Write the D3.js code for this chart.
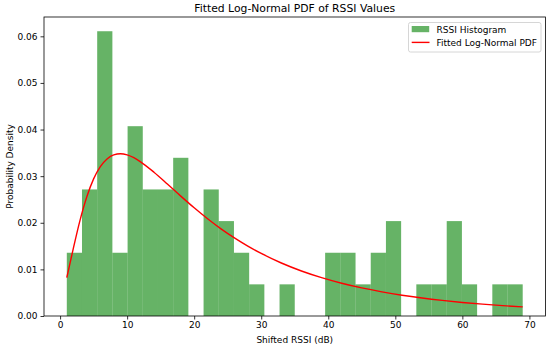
<!DOCTYPE html>
<html>
<head>
<meta charset="utf-8">
<script src="https://cdn.jsdelivr.net/npm/d3@7"></script>
<style>
  html, body { margin: 0; padding: 0; background: #fff; }
  svg { display: block; font-family: "DejaVu Sans", sans-serif; }
</style>
</head>
<body>
<svg id="chart" width="550" height="347"></svg>
<script>
// ---- data ----
const binEdges = [1, 3.267, 5.533, 7.8, 10.067, 12.333, 14.6, 16.867, 19.133, 21.4,
  23.667, 25.933, 28.2, 30.467, 32.733, 35, 37.267, 39.533, 41.8, 44.067,
  46.333, 48.6, 50.867, 53.133, 55.4, 57.667, 59.933, 62.2, 64.467, 66.733, 69];
const densities = [0.01357, 0.02715, 0.06109, 0.01357, 0.04072, 0.02715, 0.02715, 0.03394, 0, 0.02715,
  0.02036, 0.01357, 0.00679, 0, 0.00679, 0, 0, 0.01357, 0.01357, 0.00679,
  0.01357, 0.02036, 0, 0.00679, 0.00679, 0.02036, 0.00679, 0, 0.00679, 0.00679];
const pdfX = [1, 1.5, 2, 3, 4, 5, 6, 7, 8, 9, 10, 11, 12, 14, 16, 18, 20, 22, 24, 26, 28, 30,
  33, 36, 39, 42, 45, 48, 51, 54, 57, 60, 63, 66, 69];
const pdfY = [0.00823, 0.01144, 0.01467, 0.02069, 0.02565, 0.02942, 0.03205, 0.03370, 0.03457, 0.03480,
  0.03455, 0.03395, 0.03308, 0.03085, 0.02832, 0.02572, 0.02321, 0.02086, 0.01870, 0.01675,
  0.01499, 0.01342, 0.01137, 0.00966, 0.00823, 0.00703, 0.00602, 0.00518, 0.00446, 0.00386,
  0.00335, 0.00291, 0.00254, 0.00222, 0.00195];
const xTicks = [0, 10, 20, 30, 40, 50, 60, 70];
const yTicks = [0, 0.01, 0.02, 0.03, 0.04, 0.05, 0.06];
const titleText = "Fitted Log-Normal PDF of RSSI Values";
const xLabel = "Shifted RSSI (dB)";
const yLabel = "Probability Density";
const legendLabels = ["RSSI Histogram", "Fitted Log-Normal PDF"];

// ---- layout ----
const L = 44, R = 545.5, T = 17, B = 316;
const svg = d3.select("#chart");
const x = d3.scaleLinear().domain([-2.4, 72.4]).range([L, R]);
const y = d3.scaleLinear().domain([0, d3.max(densities) * 1.05]).range([B, T]);

// bars
svg.append("g").selectAll("rect")
  .data(densities)
  .join("rect")
  .attr("x", (d, i) => x(binEdges[i]))
  .attr("width", (d, i) => x(binEdges[i + 1]) - x(binEdges[i]))
  .attr("y", d => y(d))
  .attr("height", d => y(0) - y(d))
  .attr("fill", "#008000")
  .attr("fill-opacity", 0.6);

// pdf line
const pts = pdfX.map((v, i) => [v, pdfY[i]]);
svg.append("path")
  .datum(pts)
  .attr("fill", "none")
  .attr("stroke", "#ff0000")
  .attr("stroke-width", 1.4)
  .attr("d", d3.line().x(d => x(d[0])).y(d => y(d[1])).curve(d3.curveMonotoneX));

// axes
const xAxis = svg.append("g").attr("transform", `translate(0,${B})`)
  .call(d3.axisBottom(x).tickValues(xTicks).tickFormat(d3.format("d")).tickSize(3.5).tickPadding(2.5));
const yAxis = svg.append("g").attr("transform", `translate(${L},0)`)
  .call(d3.axisLeft(y).tickValues(yTicks).tickFormat(d3.format(".2f")).tickSize(3.5).tickPadding(3));
[xAxis, yAxis].forEach(g => {
  g.select(".domain").remove();
  g.selectAll("line").attr("stroke", "#000").attr("stroke-width", 0.8);
  g.selectAll("text").attr("fill", "#000").style("font-size", "9px").style("font-family", "DejaVu Sans");
});

// frame
svg.append("rect")
  .attr("x", L).attr("y", T).attr("width", R - L).attr("height", B - T)
  .attr("fill", "none").attr("stroke", "#000").attr("stroke-width", 0.8);

// title and labels
svg.append("text").attr("x", (L + R) / 2).attr("y", 12)
  .attr("text-anchor", "middle").style("font-size", "10.8px").text(titleText);
svg.append("text").attr("x", (L + R) / 2).attr("y", 342.5)
  .attr("text-anchor", "middle").style("font-size", "9px").text(xLabel);
svg.append("text").attr("transform", `translate(12.5,${(T + B) / 2}) rotate(-90)`)
  .attr("text-anchor", "middle").style("font-size", "9px").text(yLabel);

// legend
const lg = svg.append("g");
lg.append("rect").attr("x", 408.5).attr("y", 22.5).attr("width", 132.5).attr("height", 29.5)
  .attr("rx", 2).attr("fill", "#fff").attr("fill-opacity", 0.8)
  .attr("stroke", "#cccccc").attr("stroke-width", 0.8);
lg.append("rect").attr("x", 411.7).attr("y", 26).attr("width", 17.5).attr("height", 6.2)
  .attr("fill", "#008000").attr("fill-opacity", 0.6);
lg.append("line").attr("x1", 411.7).attr("x2", 429.5).attr("y1", 42.4).attr("y2", 42.4)
  .attr("stroke", "#ff0000").attr("stroke-width", 1.4);
lg.selectAll("text.lab").data(legendLabels).join("text")
  .attr("class", "lab")
  .attr("x", 436.5).attr("y", (d, i) => 32.6 + i * 13.3)
  .style("font-size", "9px").text(d => d);
</script>
</body>
</html>
